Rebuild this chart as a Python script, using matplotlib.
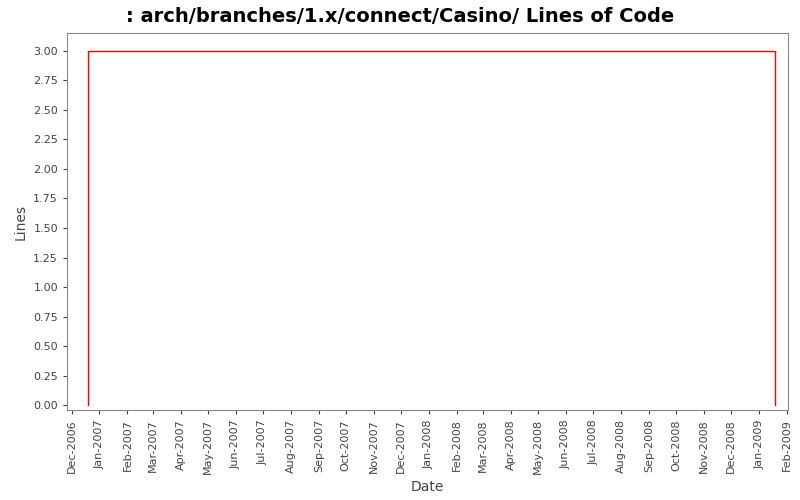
import matplotlib
matplotlib.use("Agg")
import matplotlib.pyplot as plt
import matplotlib.dates as mdates
import datetime as dt

dates = [dt.date(2006,12,19), dt.date(2006,12,19), dt.date(2009,1,19), dt.date(2009,1,19)]
lines = [0, 3, 3, 0]
title = ": arch/branches/1.x/connect/Casino/ Lines of Code"

fig = plt.figure(figsize=(8,5), dpi=100)
ax = fig.add_axes([67/800, 90/500, 721/800, 377/500])
ax.plot(dates, lines, color="red", lw=1)
ax.set_xlim(dt.date(2006,11,26), dt.date(2009,2,2))
ax.set_ylim(-0.04, 3.15)
ax.set_yticks([i*0.25 for i in range(13)])
ax.yaxis.set_major_formatter(matplotlib.ticker.FormatStrFormatter('%.2f'))
ax.xaxis.set_major_locator(mdates.MonthLocator())
ax.xaxis.set_major_formatter(mdates.DateFormatter('%b-%Y'))
for lab in ax.get_xticklabels():
    lab.set_rotation(90)
ax.tick_params(labelsize=8, colors='#444444', length=3)
for s in ax.spines.values():
    s.set_color('#888888')
ax.set_xlabel("Date", fontsize=10, color='#444444')
ax.set_ylabel("Lines", fontsize=10, color='#444444')
fig.suptitle(title, fontsize=14, fontweight='bold', y=0.985)
fig.savefig("out.png")
